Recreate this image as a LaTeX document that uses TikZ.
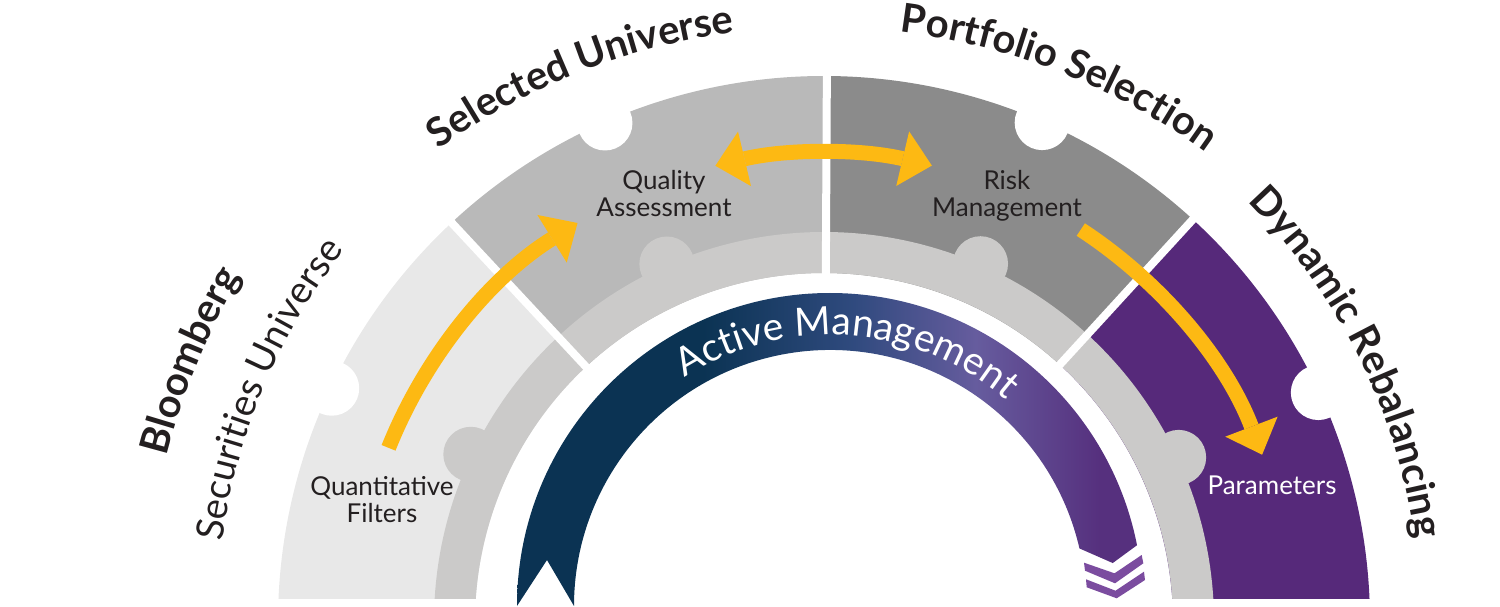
\documentclass[tikz,border=0pt]{standalone}
\usepackage{fontspec}
\setmainfont{Lato}
\usetikzlibrary{decorations.text,arrows.meta,calc}

\definecolor{segA}{HTML}{E8E8E8}
\definecolor{segB}{HTML}{B9B9B9}
\definecolor{segC}{HTML}{8B8B8B}
\definecolor{segD}{HTML}{56297A}
\definecolor{bandc}{HTML}{CBCAC9}
\definecolor{arrowc}{HTML}{FDB913}
\definecolor{inkc}{HTML}{231F20}
\definecolor{navyc}{HTML}{0B3353}
\definecolor{midc}{HTML}{2F4A7E}
\definecolor{lilac}{HTML}{665C9E}
\definecolor{purpc}{HTML}{56307E}
\definecolor{chevc}{HTML}{7B4C9F}

\pgfdeclarehorizontalshading{ribbonshade}{100bp}{color(0bp)=(navyc); color(40bp)=(navyc); color(52bp)=(midc); color(62bp)=(lilac); color(72bp)=(purpc); color(100bp)=(purpc)}

\newcommand{\annsector}[5]{%
  \fill[#1] ($(C)+(#2:#4)$) arc[start angle=#2,end angle=#3,radius=#4]
    -- ($(C)+(#3:#5)$) arc[start angle=#3,end angle=#2,radius=#5] -- cycle;}

\newcommand{\TitleFont}{\fontsize{40pt}{40pt}\selectfont\bfseries\color{inkc}}
\newcommand{\SubFont}{\fontsize{38pt}{38pt}\selectfont\color{inkc}}
\newcommand{\RibFont}{\fontsize{39pt}{39pt}\selectfont\color{white}}

\tikzset{
  lbl/.style={font=\fontsize{26pt}{27pt}\selectfont, text=inkc, anchor=base, inner sep=0pt},
  yarrow/.style={draw=arrowc, line width=15pt},
  ytip/.tip={Triangle[length=30pt,width=56pt,line width=0pt]},
  gapline/.style={draw=white, line width=8pt},
  notch/.style={fill=white},
  bump/.style={fill=bandc}
}

\begin{document}
\begin{tikzpicture}[x=1pt,y=1pt]
\useasboundingbox (0,0) rectangle (1500,606);
\coordinate (C) at (824,-16);
\coordinate (RC) at (830,0);
\coordinate (T1) at (820,-77);

\begin{scope}
\clip (0,8) rectangle (1500,606);
% outer segments
\annsector{segA}{133}{182}{349pt}{546pt}
\annsector{segB}{90}{133}{349pt}{546pt}
\annsector{segC}{47.5}{90}{349pt}{546pt}
\annsector{segD}{-2}{47.5}{349pt}{546pt}
% inner band
\annsector{bandc}{-2}{182}{349pt}{390pt}
\fill[bump] ($(C)+(154.6:391pt)$) circle[radius=27.5pt];
\fill[bump] ($(C)+(113.7:391pt)$) circle[radius=27.5pt];
\fill[bump] ($(C)+(66.4:391pt)$) circle[radius=27.5pt];
\fill[bump] ($(C)+(24.9:391pt)$) circle[radius=27.5pt];
% notches
\fill[notch] ($(C)+(154.6:545pt)$) circle[radius=27.5pt];
\fill[notch] ($(C)+(113.7:545pt)$) circle[radius=27.5pt];
\fill[notch] ($(C)+(66.4:545pt)$) circle[radius=27.5pt];
\fill[notch] ($(C)+(24.9:545pt)$) circle[radius=27.5pt];
% gaps
\draw[gapline] ($(C)+(133:335pt)$) -- ($(C)+(133:560pt)$);
\draw[gapline] ($(C)+(89.7:335pt)$) -- ($(C)+(89.7:560pt)$);
\draw[gapline] ($(C)+(47.5:335pt)$) -- ($(C)+(47.5:560pt)$);
\end{scope}

% ribbon
\shade[shading=ribbonshade] ($(RC)+(180:313pt)$) arc[start angle=180,end angle=11.2,radius=313pt]
  -- ($(RC)+(8.64:286pt)$) -- ($(RC)+(13:256pt)$)
  arc[start angle=13,end angle=180,radius=256pt] -- (547,46) -- cycle;
\fill[chevc] (1084,43.3) -- (1114.5,32.7) -- (1141.7,51) -- (1143.3,42.7) -- (1115,22.7) -- (1085,35.3) -- cycle;
\fill[chevc] (1086,26.7) -- (1115.5,15.3) -- (1144,34.3) -- (1145,26) -- (1116.7,7.7) -- (1086.7,18.7) -- cycle;

\path[decorate, decoration={text along path, text align=center,
  text={|\RibFont|Active Management}}]
  ($(RC)+(130:271pt)$) arc[start angle=130,end angle=42,radius=271pt];

% yellow arrows
\draw[yarrow, -ytip] ($(C)+(158.2:469pt)$) arc[start angle=158.2,end angle=121.7,radius=469pt];
\draw[yarrow, ytip-ytip] ($(C)+(103.4:469pt)$) arc[start angle=103.4,end angle=76.7,radius=469pt];
\draw[yarrow, -ytip] ($(C)+(56.8:469pt)$) arc[start angle=56.8,end angle=20.9,radius=469pt];

% segment labels
\node[lbl] (q1) at (382,111) {Quantitative};
\node[lbl] (q2) at (382,84) {Filters};
\node[lbl] (qa1) at (664,416) {Quality};
\node[lbl] (qa2) at (664,389) {Assessment};
\node[lbl] (rm1) at (1007,416) {Risk};
\node[lbl] (rm2) at (1007,389) {Management};
\node[lbl, text=white] (pa) at (1272,112) {Parameters};

% titles along arcs
\path[decorate, decoration={text along path, text align=center,
  text={|\TitleFont|Bloomberg}}]
  ($(C)+(187.6:678pt)$) arc[start angle=187.6,end angle=127.6,radius=678pt];
\path[decorate, decoration={text along path, text align=center,
  text={|\SubFont|Securities Universe}}]
  ($(C)+(197.3:607pt)$) arc[start angle=197.3,end angle=117.3,radius=607pt];
\path[decorate, decoration={text along path, text align=center,
  text={|\TitleFont|Selected Universe}}]
  ($(T1)+(151.5:656pt)$) arc[start angle=151.5,end angle=71.5,radius=656pt];
\path[decorate, decoration={text along path, text align=center,
  text={|\TitleFont|Portfolio Selection}}]
  ($(T1)+(108.5:656pt)$) arc[start angle=108.5,end angle=28.5,radius=656pt];
\path[decorate, decoration={text along path, text align=center,
  text={|\TitleFont|Dynamic Rebalancing}}]
  ($(C)+(66.4:597pt)$) arc[start angle=66.4,end angle=-13.6,radius=597pt];
\end{tikzpicture}
\end{document}
